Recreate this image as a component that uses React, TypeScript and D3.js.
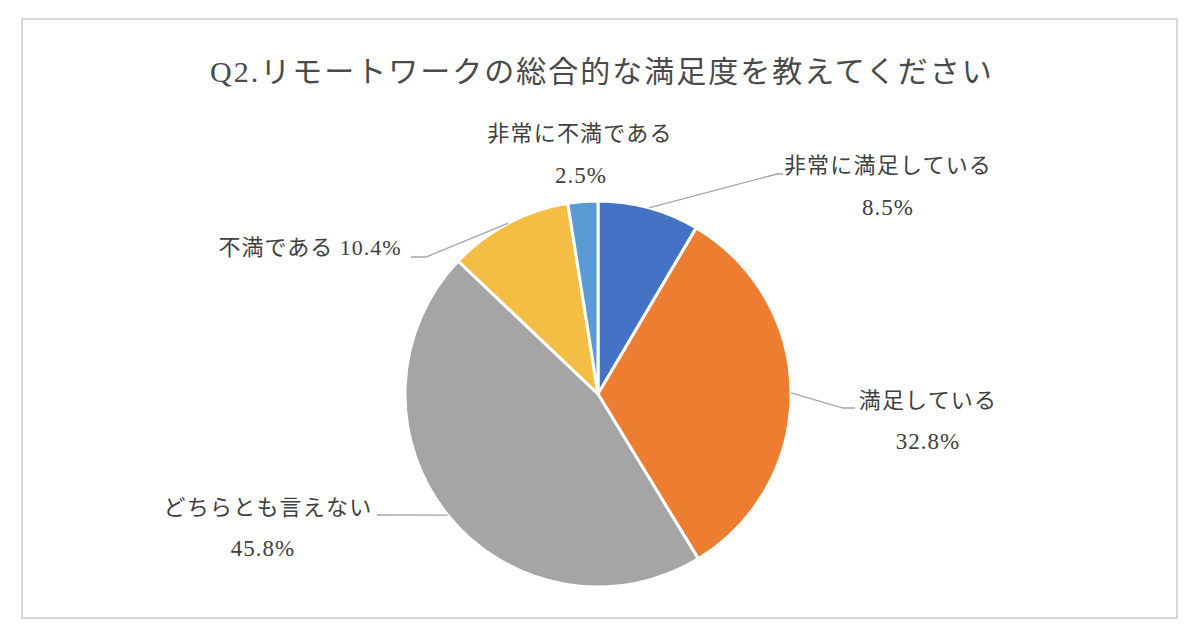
import React from "react";
import * as d3 from "d3";

const categories = ["非常に満足している", "満足している", "どちらとも言えない", "不満である", "非常に不満である"];
const values = [8.5, 32.8, 45.8, 10.4, 2.5];
const colors = ["#4472C4", "#ED7D31", "#A5A5A5", "#F4BE44", "#5B9BD5"];
const title = "Q2.リモートワークの総合的な満足度を教えてください";

const W = 1200;
const H = 640;
const cx = 598;
const cy = 394;
const R = 193;

type Lab = { nx: number; ny: number; px: number; py: number; anchor: string; inline?: boolean; elbow?: [number, number]; end?: [number, number] };
const labels: Lab[] = [
  { nx: 888, ny: 173, px: 888, py: 215, anchor: "middle", elbow: [777, 174], end: [783, 174] },
  { nx: 928, ny: 408, px: 928, py: 449, anchor: "middle", elbow: [843, 408], end: [855, 408] },
  { nx: 268, ny: 515, px: 263, py: 556, anchor: "middle", elbow: [377, 515], end: [377, 515] },
  { nx: 310, ny: 255, px: 0, py: 0, anchor: "middle", inline: true, elbow: [426, 257], end: [411, 257] },
  { nx: 580, ny: 141, px: 581, py: 183, anchor: "middle" },
];

const FONT = "'Liberation Serif', 'DejaVu Serif', 'Noto Sans CJK JP', serif";

export default function App() {
  const pie = d3.pie<number>().sort(null).value((d) => d);
  const arcs = pie(values);
  const arc = d3.arc<d3.PieArcDatum<number>>().innerRadius(0).outerRadius(R);

  return (
    <svg width={W} height={H} style={{ position: "absolute", left: 0, top: 0, background: "#fff" }} fontFamily={FONT}>
      <rect x={22} y={19} width={1155} height={599} fill="#fff" stroke="#d9d9d9" strokeWidth={2} />
      <text x={602} y={82} textAnchor="middle" fontSize={30} fill="#4a4a4a" letterSpacing={2}>
        {title}
      </text>
      <g transform={`translate(${cx},${cy})`}>
        {arcs.map((a, i) => (
          <path key={i} d={arc(a) || ""} fill={colors[i]} stroke="#fff" strokeWidth={3} strokeLinejoin="round" />
        ))}
      </g>
      {arcs.map((a, i) => {
        const L = labels[i];
        const mid = (a.startAngle + a.endAngle) / 2;
        const sx = cx + R * Math.sin(mid);
        const sy = cy - R * Math.cos(mid);
        const pct = `${values[i].toFixed(1)}%`;
        return (
          <g key={i}>
            {L.elbow && L.end && (
              <polyline
                points={`${sx},${sy} ${L.elbow[0]},${L.elbow[1]} ${L.end[0]},${L.end[1]}`}
                fill="none"
                stroke="#a6a6a6"
                strokeWidth={1.3}
              />
            )}
            {L.inline ? (
              <text x={L.nx} y={L.ny} textAnchor={L.anchor} fontSize={22} fill="#404040" letterSpacing={1}>
                {categories[i]} {pct}
              </text>
            ) : (
              <>
                <text x={L.nx} y={L.ny} textAnchor={L.anchor} fontSize={22} fill="#404040" letterSpacing={1.2}>
                  {categories[i]}
                </text>
                <text x={L.px} y={L.py} textAnchor={L.anchor} fontSize={23} fill="#404040" letterSpacing={1}>
                  {pct}
                </text>
              </>
            )}
          </g>
        );
      })}
    </svg>
  );
}
